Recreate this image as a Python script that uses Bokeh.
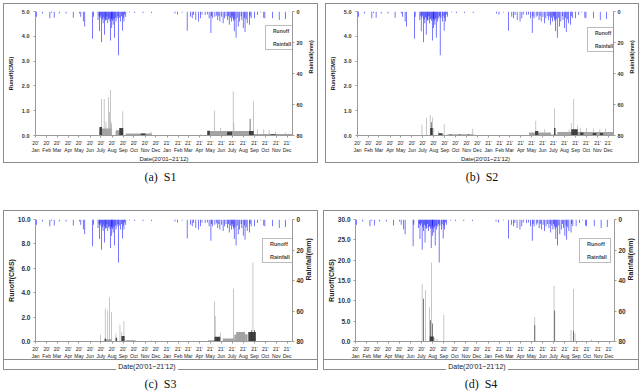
import math
import pandas as pd
from bokeh.plotting import figure
from bokeh.models import (Range1d, LinearAxis, FixedTicker, Legend, LegendItem,
                          NumeralTickFormatter, ColumnDataSource, Div)
from bokeh.layouts import column, row
from bokeh.embed import file_html
from bokeh.resources import INLINE

# ---------------- data ----------------
x_start = "2020-01-01"
x_end = "2021-12-16"
month_ticks = list(pd.date_range("2020-01-01", "2021-12-01", freq="MS"))
tick_labels = ["20'\nJan", "20'\nFeb", "20'\nMar", "20'\nApr", "20'\nMay", "20'\nJun",
               "20'\nJuly", "20'\nAug", "20'\nSep", "20'\nOct", "20'\nNov", "20'\nDec",
               "21'\nJan", "21'\nFeb", "21'\nMar", "21'\nApr", "21'\nMay", "21'\nJun",
               "21'\nJuly", "21'\nAug", "21'\nSep", "21'\nOct", "21'\nNov", "21'\nDec"]
date_title = "Date(20'01~21'12)"
captions = ["(a)\u00a0\u00a0S1", "(b)\u00a0\u00a0S2", "(c)\u00a0\u00a0S3", "(d)\u00a0\u00a0S4"]

rain_dates = ["2020-01-04", "2020-01-21", "2020-02-10", "2020-02-15", "2020-02-22", "2020-03-07",
              "2020-03-26", "2020-04-15", "2020-05-02", "2020-05-06", "2020-05-13", "2020-05-17",
              "2020-06-08", "2020-06-10", "2020-06-23", "2020-06-26", "2020-06-27", "2020-06-29",
              "2020-07-01", "2020-07-03", "2020-07-05", "2020-07-07", "2020-07-09", "2020-07-11",
              "2020-07-13", "2020-07-14", "2020-07-16", "2020-07-18", "2020-07-20", "2020-07-22",
              "2020-07-24", "2020-07-26", "2020-07-28", "2020-07-30", "2020-07-31", "2020-08-01",
              "2020-08-02", "2020-08-04", "2020-08-06", "2020-08-08", "2020-08-10", "2020-08-12",
              "2020-08-15", "2020-08-17", "2020-08-19", "2020-08-21", "2020-08-25", "2020-08-27",
              "2020-08-30", "2020-09-01", "2020-09-03", "2020-09-05", "2020-09-08", "2020-09-19",
              "2020-10-03", "2020-10-26", "2020-11-19",
              "2021-01-23", "2021-01-30", "2021-02-12", "2021-02-26", "2021-03-07", "2021-03-12",
              "2021-03-16", "2021-03-22", "2021-03-30", "2021-04-04", "2021-04-08", "2021-04-17",
              "2021-04-23", "2021-04-28", "2021-05-03", "2021-05-05", "2021-05-08", "2021-05-14",
              "2021-05-18", "2021-05-22", "2021-05-25", "2021-05-28", "2021-06-02", "2021-06-06",
              "2021-06-10", "2021-06-14", "2021-06-18", "2021-06-21", "2021-06-23", "2021-06-26",
              "2021-06-29", "2021-07-01", "2021-07-03", "2021-07-05", "2021-07-07", "2021-07-09",
              "2021-07-12", "2021-07-15", "2021-07-18", "2021-07-22", "2021-07-26", "2021-07-28",
              "2021-08-01", "2021-08-04", "2021-08-06", "2021-08-09", "2021-08-12", "2021-08-18",
              "2021-08-20", "2021-08-23", "2021-09-01", "2021-09-10", "2021-09-19", "2021-09-27",
              "2021-09-30", "2021-10-21", "2021-11-09", "2021-11-26"]
rain_mm = [3.4, 1.3, 4.4, 1.0, 4.0, 1.3,
           1.3, 4.0, 1.3, 3.4, 6.5, 9.7,
           17.5, 3.4, 5.5, 3.0, 12.8, 4.0,
           2.5, 19.8, 5.0, 7.6, 3.5, 15.0,
           4.5, 6.0, 5.5, 3.0, 7.6, 5.0,
           4.4, 6.0, 18.7, 5.0, 10.7, 4.0,
           6.0, 8.6, 5.0, 17.0, 4.0, 6.5,
           4.4, 3.0, 28.2, 4.0, 6.5, 3.0,
           12.4, 4.0, 6.5, 2.0, 3.4, 0.6,
           1.0, 1.0, 1.0,
           1.3, 1.9, 0.6, 12.4, 3.4, 4.4,
           2.3, 5.5, 6.5, 4.4, 1.9, 2.3,
           2.0, 4.4, 13.9, 3.0, 4.4, 3.4,
           2.5, 5.5, 3.0, 6.5, 3.4, 7.6,
           4.4, 3.0, 5.5, 3.0, 8.6, 4.0,
           6.5, 3.0, 4.4, 6.0, 12.8, 5.0,
           17.0, 4.0, 9.7, 6.5, 3.0, 5.5,
           10.7, 4.0, 13.3, 5.0, 7.6, 8.6,
           3.0, 4.4, 4.4, 2.3, 0.6, 4.0,
           4.4, 4.4, 5.5, 4.9]

# runoff (CMS): blocks (start, end, value) and daily peaks (date, value)
s1_grey_blocks = [("2020-06-27", "2020-07-31", 0.28), ("2020-08-11", "2020-09-01", 0.21),
                  ("2020-09-08", "2020-11-20", 0.08), ("2021-04-23", "2021-08-18", 0.185),
                  ("2021-08-18", "2021-12-15", 0.06)]
s1_grey_peaks = [("2020-07-03", 1.47), ("2020-07-10", 1.47), ("2020-07-15", 0.55), ("2020-07-22", 1.54),
                 ("2020-07-25", 0.94), ("2020-07-28", 1.83), ("2020-07-29", 0.55), ("2020-07-31", 0.45),
                 ("2020-08-31", 0.98), ("2020-11-17", 0.15), ("2021-04-05", 0.05), ("2021-05-13", 1.0),
                 ("2021-05-30", 0.3), ("2021-07-04", 1.77), ("2021-07-06", 0.5), ("2021-08-29", 1.38),
                 ("2021-09-10", 0.25), ("2021-09-27", 0.25), ("2021-10-12", 0.22), ("2021-10-30", 0.15),
                 ("2021-11-26", 0.12)]
s1_dark_blocks = [("2020-06-27", "2020-07-04", 0.34), ("2020-08-21", "2020-09-01", 0.30),
                  ("2020-10-20", "2020-11-02", 0.08), ("2021-04-23", "2021-04-30", 0.19),
                  ("2021-06-17", "2021-07-01", 0.15), ("2021-08-17", "2021-08-30", 0.18),
                  ("2021-10-16", "2021-10-30", 0.05)]
s1_dark_peaks = [("2021-08-20", 0.68)]

s2_grey_blocks = [("2020-09-08", "2020-11-20", 0.05), ("2021-04-24", "2021-06-24", 0.12),
                  ("2021-06-24", "2021-07-12", 0.04), ("2021-07-12", "2021-12-15", 0.14)]
s2_grey_peaks = [("2020-06-29", 0.43), ("2020-07-12", 0.72), ("2020-07-22", 0.83), ("2020-07-29", 0.73),
                 ("2020-08-01", 0.3), ("2020-08-14", 0.16), ("2020-08-30", 0.45), ("2020-11-18", 0.27),
                 ("2021-04-05", 0.03), ("2021-05-13", 0.59), ("2021-06-07", 0.25), ("2021-07-04", 1.09),
                 ("2021-08-14", 0.23), ("2021-08-20", 0.5), ("2021-08-27", 1.47), ("2021-09-07", 0.4),
                 ("2021-09-14", 0.3), ("2021-10-02", 0.3), ("2021-10-21", 0.28), ("2021-11-08", 0.25),
                 ("2021-11-24", 0.28)]
s2_dark_blocks = [("2020-07-22", "2020-07-29", 0.3), ("2020-08-14", "2020-08-26", 0.09),
                  ("2020-09-16", "2020-09-19", 0.05), ("2020-10-11", "2020-10-14", 0.05),
                  ("2020-11-05", "2020-11-08", 0.05), ("2021-05-11", "2021-05-20", 0.18),
                  ("2021-07-03", "2021-07-07", 0.3), ("2021-08-20", "2021-09-07", 0.25),
                  ("2021-09-14", "2021-09-23", 0.12), ("2021-10-19", "2021-10-29", 0.1),
                  ("2021-11-08", "2021-11-17", 0.1)]
s2_dark_peaks = [("2020-07-25", 0.53)]

s3_grey_blocks = [("2020-07-10", "2020-07-31", 0.19), ("2020-09-08", "2020-10-06", 0.1),
                  ("2020-10-06", "2020-11-19", 0.04), ("2021-04-25", "2021-05-13", 0.1),
                  ("2021-06-05", "2021-07-07", 0.24), ("2021-07-07", "2021-07-12", 0.55),
                  ("2021-07-12", "2021-08-06", 0.78), ("2021-08-06", "2021-08-13", 0.6),
                  ("2021-09-05", "2021-12-15", 0.05)]
s3_grey_peaks = [("2020-06-30", 0.57), ("2020-07-13", 2.68), ("2020-07-20", 2.54), ("2020-07-25", 3.62),
                 ("2020-07-30", 2.4), ("2020-08-12", 0.65), ("2020-08-23", 1.38), ("2020-08-28", 0.78),
                 ("2020-09-03", 1.68), ("2021-04-05", 0.05), ("2021-05-13", 3.27), ("2021-05-15", 2.1),
                 ("2021-05-29", 0.73), ("2021-07-05", 4.35), ("2021-08-28", 6.48)]
s3_dark_blocks = [("2020-07-12", "2020-07-15", 0.24), ("2020-08-11", "2020-08-15", 0.3),
                  ("2020-08-27", "2020-09-05", 0.45), ("2020-11-18", "2020-11-20", 0.06),
                  ("2021-05-13", "2021-05-29", 0.38), ("2021-08-15", "2021-09-05", 0.78)]
s3_dark_peaks = [("2021-08-24", 0.92), ("2021-09-01", 0.95)]

s4_grey_blocks = [("2020-09-03", "2020-11-26", 0.15), ("2021-04-04", "2021-12-15", 0.12)]
s4_grey_peaks = [("2020-07-03", 14.1), ("2020-07-12", 12.6), ("2020-07-23", 8.4), ("2020-07-29", 19.4),
                 ("2020-08-07", 1.0), ("2020-08-13", 0.6), ("2020-09-01", 6.6), ("2021-05-10", 6.0),
                 ("2021-07-02", 13.7), ("2021-08-18", 2.8), ("2021-08-25", 12.9), ("2021-08-29", 2.0),
                 ("2021-10-14", 0.5)]
s4_dark_blocks = [("2020-07-24", "2020-08-04", 1.2)]
s4_dark_peaks = [("2020-07-07", 10.5), ("2020-07-26", 5.2), ("2020-08-01", 4.4), ("2021-05-10", 4.0),
                 ("2021-07-04", 7.6), ("2021-08-25", 2.5)]

# ---------------- drawing ----------------
DAY_MS = 86400000
tick_ms = [int(t.value // 10**6) for t in month_ticks]
FONT = "Liberation Sans"
BOX = "1px solid #8c8c8c"


def blocks_src(blocks):
    return ColumnDataSource(dict(left=pd.to_datetime([b[0] for b in blocks]),
                                 right=pd.to_datetime([b[1] for b in blocks]),
                                 top=[b[2] for b in blocks]))


def peaks_src(peaks):
    return ColumnDataSource(dict(x=pd.to_datetime([q[0] for q in peaks]), top=[q[1] for q in peaks]))


def panel(W, H, fl, fr, ft, fb, ymax, ystep, gb, gp, db, dp, big, leg_off, with_date):
    p = figure(width=W, height=H, x_axis_type="datetime",
               x_range=Range1d(pd.Timestamp(x_start), pd.Timestamp(x_end)),
               y_range=Range1d(0, ymax), output_backend="svg", toolbar_location=None,
               min_border_left=fl, min_border_right=fr, min_border_top=ft, min_border_bottom=fb,
               title=None, outline_line_color=None, background_fill_color="white",
               border_fill_color=None,
               styles={"border": BOX, "box-sizing": "content-box"})
    p.xgrid.visible = False
    p.ygrid.visible = False
    p.extra_y_ranges = {"rain": Range1d(80, 0)}

    tick_fs = "6.5px" if big else "5.5px"
    lab_fs = "7px" if big else "5.5px"

    # runoff
    p.quad(left="left", right="right", bottom=0, top="top", source=blocks_src(gb),
           fill_color="#a3a3a3", line_color=None)
    p.vbar(x="x", top="top", width=1.8 * DAY_MS, source=peaks_src(gp),
           fill_color="#a8a8a8", line_color=None)
    p.quad(left="left", right="right", bottom=0, top="top", source=blocks_src(db),
           fill_color="#404040", line_color=None)
    p.vbar(x="x", top="top", width=1.8 * DAY_MS, source=peaks_src(dp),
           fill_color="#333333", line_color=None)
    # rainfall
    rsrc = ColumnDataSource(dict(x=pd.to_datetime(rain_dates), mm=rain_mm))
    p.vbar(x="x", top=0, bottom="mm", width=2.0 * DAY_MS, source=rsrc, y_range_name="rain",
           fill_color="#0000ff", fill_alpha=0.75, line_color=None)

    # axes
    xa = p.xaxis[0]
    xa.ticker = FixedTicker(ticks=tick_ms)
    xa.major_label_overrides = dict(zip(tick_ms, tick_labels))
    xa.major_label_text_font_size = "5px"
    xa.major_label_text_font = FONT
    xa.major_label_text_color = "#222222"
    xa.major_label_standoff = 2
    xa.major_tick_out = 2
    xa.major_tick_in = 0
    xa.minor_tick_out = 0
    xa.axis_line_color = "#9a9a9a"
    xa.major_tick_line_color = "#9a9a9a"
    if with_date:
        xa.axis_label = date_title
        xa.axis_label_text_font = FONT
        xa.axis_label_text_font_size = "6px"
        xa.axis_label_text_font_style = "normal"
        xa.axis_label_text_color = "#222222"
        xa.axis_label_standoff = 0

    ya = p.yaxis[0]
    ya.ticker = FixedTicker(ticks=[i * ystep for i in range(int(round(ymax / ystep)) + 1)])
    ya.formatter = NumeralTickFormatter(format="0.0")
    ya.axis_label = "Runoff(CMS)"

    yr = LinearAxis(y_range_name="rain", ticker=FixedTicker(ticks=[0, 20, 40, 60, 80]),
                    axis_label="Rainfall(mm)")
    p.add_layout(yr, "right")
    for a in (ya, yr):
        a.major_label_text_font_size = tick_fs
        a.major_label_text_font = FONT
        a.major_label_text_font_style = "bold"
        a.major_label_text_color = "#333333"
        a.axis_label_text_font_size = lab_fs
        a.axis_label_text_font = FONT
        a.axis_label_text_font_style = "bold"
        a.axis_label_text_color = "#222222"
        a.major_tick_out = 2
        a.major_tick_in = 0
        a.minor_tick_out = 0
        a.minor_tick_in = 0
        a.axis_line_color = "#9a9a9a"
        a.major_tick_line_color = "#9a9a9a"
    ya.major_label_standoff = 3 if big else 4
    ya.axis_label_standoff = 0 if big else 5
    yr.major_label_standoff = 2
    yr.axis_label_standoff = 2 if big else 5
    yr.axis_label_orientation = math.pi / 2

    # legend
    r_run = p.vbar(x=[], top=[], width=1, fill_color="black", line_color=None)
    r_rain = p.vbar(x=[], top=[], width=1, fill_color="#0000ff", line_color=None)
    fw = W - fl - fr
    fh = H - ft - fb
    lw, lh = (30, 26) if big else (28, 25)
    leg = Legend(items=[LegendItem(label="Runoff", renderers=[r_run]),
                        LegendItem(label="Rainfall", renderers=[r_rain])],
                 location=(fw - leg_off[0] - lw, fh - leg_off[1] - lh),
                 label_text_font=FONT, label_text_font_style="bold",
                 label_text_font_size="5.5px" if big else "5px",
                 glyph_width=4, glyph_height=4, label_height=6,
                 label_width=21 if big else 19, label_standoff=1,
                 spacing=7, padding=2, margin=0,
                 border_line_color="#7a7a7a", border_line_width=1,
                 background_fill_color="white")
    p.add_layout(leg)
    return p


def caption_div(text, w, h, pad):
    html = ('<div style="box-sizing:border-box;width:' + str(w) + 'px;padding-top:' + str(pad) +
            'px;line-height:14px;text-align:center;font-family:\'Liberation Serif\';'
            'font-size:12px;color:#111;">' + text + '</div>')
    return Div(text=html, width=w, height=h, margin=0)


def date_div(w, shift):
    html = ('<div style="box-sizing:border-box;width:' + str(w) + 'px;position:relative;top:-3px;'
            'text-align:center;padding-right:' + str(shift) +
            'px;font-family:\'Liberation Sans\';font-size:7px;line-height:8px;color:#222;">'
            '<span style="background:#ffffff;padding:0 2px;">' + date_title + '</span></div>')
    return Div(text=html, width=w, height=9, margin=0,
               styles={"border-left": BOX, "border-right": BOX, "border-bottom": BOX,
                       "box-sizing": "content-box"})


pa = panel(313, 158, 25, 27, 7, 25, 5.0, 1.0, s1_grey_blocks, s1_grey_peaks, s1_dark_blocks,
           s1_dark_peaks, False, (3, 16), True)
pb = panel(312, 158, 23, 26, 7, 28, 5.0, 1.0, s2_grey_blocks, s2_grey_peaks, s2_dark_blocks,
           s2_dark_peaks, False, (5, 15), True)
pc = panel(313, 148, 26, 27, 8, 16, 10.0, 2.0, s3_grey_blocks, s3_grey_peaks, s3_dark_blocks,
           s3_dark_peaks, True, (3, 20), False)
pd_ = panel(314, 148, 29, 26, 8, 16, 30.0, 5.0, s4_grey_blocks, s4_grey_peaks, s4_dark_blocks,
            s4_dark_peaks, True, (5, 20), False)

col_a = column(pa, caption_div(captions[0], 315, 47, 7))
col_b = column(pb, caption_div(captions[1], 314, 47, 7))
col_c = column(pc, date_div(313, 27), caption_div(captions[2], 315, 12, 7))
col_d = column(pd_, date_div(314, 8), caption_div(captions[3], 316, 12, 7))

layout = column(row(col_a, col_b, spacing=7), row(col_c, col_d, spacing=5),
                styles={"margin-top": "3px", "margin-left": "3px"})
open("out.html", "w").write(file_html(layout, INLINE))
